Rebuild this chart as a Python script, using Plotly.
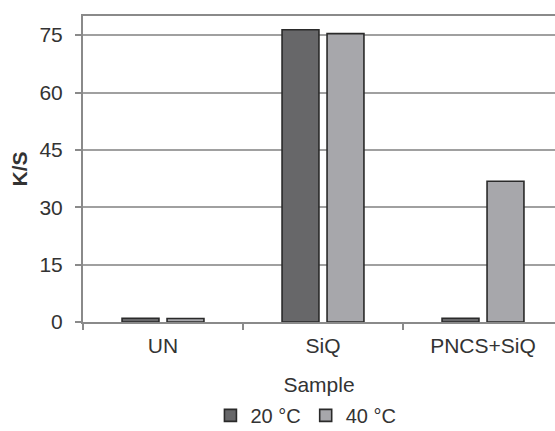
import plotly.graph_objects as go

categories = ["UN", "SiQ", "PNCS+SiQ"]
series_names = ["20 °C", "40 °C"]
vals_20 = [1.0, 76.4, 1.0]
vals_40 = [0.9, 75.4, 36.8]
y_ticks = [0, 15, 30, 45, 60, 75]

colors = ["#676769", "#a7a7ab"]

fig = go.Figure()
for name, vals, c in zip(series_names, [vals_20, vals_40], colors):
    fig.add_trace(go.Bar(
        x=categories, y=vals, name=name,
        marker=dict(color=c, line=dict(color="#2a2a2a", width=1.6)),
    ))

FS = 21
fig.update_layout(
    width=555, height=431,
    margin=dict(l=83, r=0, t=16, b=109, autoexpand=False),
    paper_bgcolor="white", plot_bgcolor="white",
    barmode="group", bargap=0.4375, bargroupgap=0.18,
    font=dict(family="Liberation Sans, Arial, sans-serif", size=FS, color="#333333"),
    showlegend=True,
    legend=dict(orientation="h", x=0.27, xanchor="left", y=-0.305, yanchor="middle",
                font=dict(size=20, color="#333333"), itemwidth=30, traceorder="normal",
                tracegroupgap=0),
    xaxis=dict(
        type="category", range=[-0.5, 2.45],
        showline=True, linecolor="#8a8a8a", linewidth=2, mirror=True,
        ticks="outside", tickson="boundaries", ticklen=6, tickcolor="#8a8a8a", tickwidth=1.5,
        showgrid=False,
        ticklabelstandoff=4,
        title=dict(text="Sample", standoff=21, font=dict(size=FS)),
        tickfont=dict(size=FS),
        automargin=False,
    ),
    yaxis=dict(
        range=[0, 80], tickvals=y_ticks,
        showline=True, linecolor="#8a8a8a", linewidth=2,
        ticks="outside", ticklen=6, tickcolor="#8a8a8a", tickwidth=1.5,
        showgrid=True, gridcolor="#a0a0a0", gridwidth=1.5,
        zeroline=False,
        ticklabelstandoff=8,
        title=dict(text="<b>K/S</b>", standoff=6, font=dict(size=FS)),
        tickfont=dict(size=FS),
        automargin=False,
    ),
)

fig.write_html("out.html")
